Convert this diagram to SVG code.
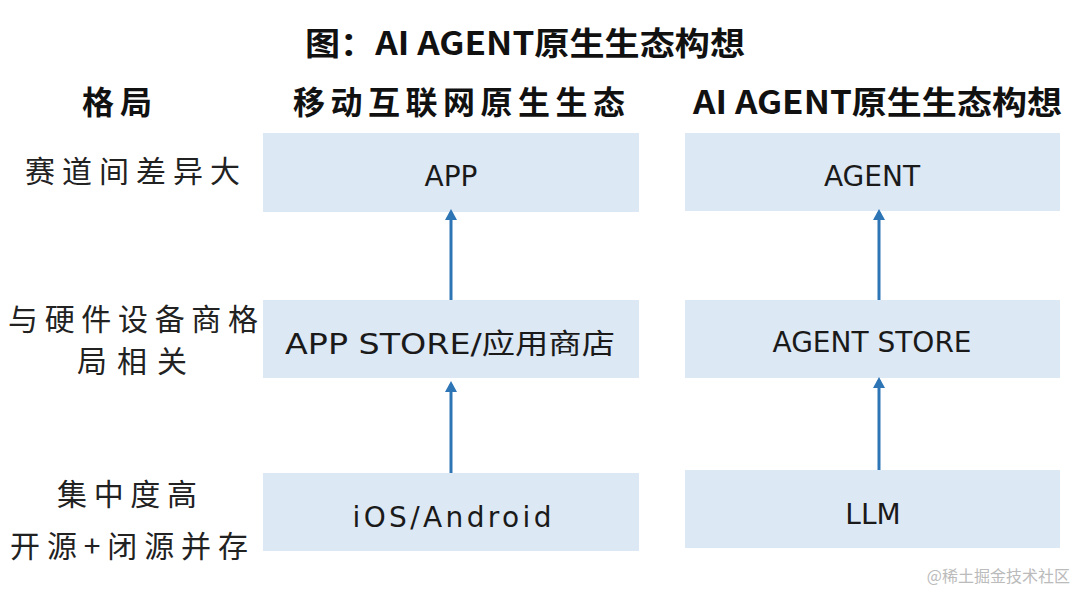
<svg xmlns="http://www.w3.org/2000/svg" width="1080" height="595" viewBox="0 0 1080 595">
<style>
.b{fill:#dde8f5}
.t{font-family:"DejaVu Sans","Noto Sans CJK SC",sans-serif;font-size:28px;fill:#1a1a1a;text-anchor:middle}
.h{font-family:"Noto Sans CJK SC",sans-serif;font-size:32px;font-weight:bold;fill:#111}
.l{font-family:"Noto Sans CJK SC",sans-serif;font-size:30px;fill:#222}
.c{stroke:#2e75b6;stroke-width:3;fill:none;marker-end:url(#a)}
</style>
<defs><marker id="a" markerWidth="12" markerHeight="12" refX="8" refY="6" orient="auto" markerUnits="userSpaceOnUse"><path d="M0,0 L11,6 L0,12 Z" fill="#2e75b6"/></marker></defs>
<rect width="1080" height="595" fill="#fff"/>
<text class="h" x="305" y="55" textLength="440" lengthAdjust="spacingAndGlyphs">图：AI AGENT原生生态构想</text>
<text class="h" x="82" y="114" textLength="70">格局</text>
<text class="h" x="293" y="114" textLength="332">移动互联网原生生态</text>
<text class="h" x="693" y="114" textLength="369" lengthAdjust="spacingAndGlyphs">AI AGENT原生生态构想</text>
<g id="labels">
<text class="l" x="25" y="182" textLength="215">赛道间差异大</text>
<text class="l" x="8" y="330" textLength="250">与硬件设备商格</text>
<text class="l" x="77" y="372" textLength="110">局相关</text>
<text class="l" x="57" y="505" textLength="140">集中度高</text>
<text class="l" x="10" y="557" textLength="238">开源+闭源并存</text>
</g>
<g id="app"><rect class="b" x="263" y="133" width="376" height="79"/><text class="t" x="451" y="186">APP</text></g>
<g id="appstore"><rect class="b" x="263" y="300" width="376" height="78"/><text class="t" x="450" y="354" textLength="330" lengthAdjust="spacingAndGlyphs">APP STORE/应用商店</text></g>
<g id="ios"><rect class="b" x="263" y="473" width="376" height="78"/><text class="t" x="452" y="527" textLength="199">iOS/Android</text></g>
<g id="agent"><rect class="b" x="685" y="133" width="375" height="78"/><text class="t" x="872" y="186">AGENT</text></g>
<g id="agentstore"><rect class="b" x="685" y="300" width="375" height="78"/><text class="t" x="872" y="352">AGENT STORE</text></g>
<g id="llm"><rect class="b" x="685" y="470" width="375" height="78"/><text class="t" x="873" y="524">LLM</text></g>
<g id="connectors">
<line class="c" x1="451" y1="300" x2="451" y2="212"/>
<line class="c" x1="451" y1="473" x2="451" y2="384"/>
<line class="c" x1="879" y1="300" x2="879" y2="212"/>
<line class="c" x1="879" y1="470" x2="879" y2="380"/>
</g>
<text x="1070" y="582" font-family="Noto Sans CJK SC,sans-serif" font-size="16" fill="#bbb" text-anchor="end">@稀土掘金技术社区</text>
</svg>
